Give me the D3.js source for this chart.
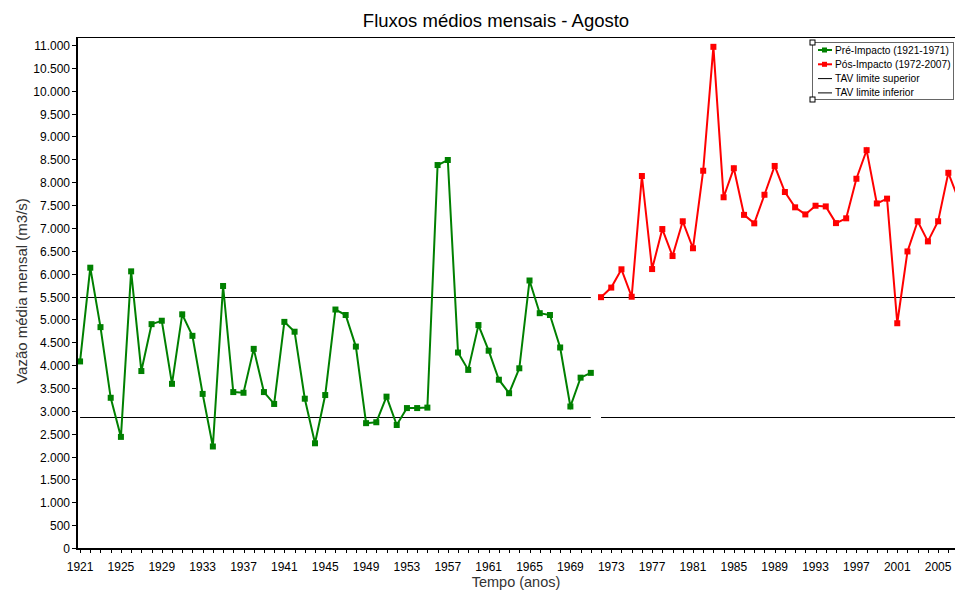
<!DOCTYPE html>
<html><head><meta charset="utf-8">
<script src="https://cdn.jsdelivr.net/npm/d3@7"></script>
<style>
html,body{margin:0;padding:0;background:#fff;overflow:hidden}
svg{display:block;font-family:"Liberation Sans",Arial,sans-serif}
</style></head><body>
<svg id="chart" width="955" height="592"></svg>
<script>
const preYears = d3.range(1921, 1972);
const preValues = [4080,6130,4830,3285,2430,6050,3870,4895,4970,3590,5110,4640,3370,2220,5730,3410,3395,4355,3410,3150,4945,4730,3265,2290,3345,5215,5095,4405,2730,2750,3310,2690,3060,3060,3070,8375,8485,4275,3895,4875,4315,3680,3385,3930,5850,5135,5095,4385,3095,3725,3830];
const posYears = d3.range(1972, 2008);
const posValues = [5485,5695,6095,5495,8135,6100,6975,6385,7145,6555,8250,10960,7670,8305,7285,7100,7725,8355,7785,7450,7295,7485,7470,7105,7210,8075,8700,7535,7640,4915,6485,7145,6705,7145,8205,7620];
const tavUpper = 5500;
const tavLower = 2855;
const xTickYears = d3.range(1921, 2008, 4);
const yTicks = d3.range(0, 11001, 500);
const seriesNames = ["Pré-Impacto (1921-1971)","Pós-Impacto (1972-2007)","TAV limite superior","TAV limite inferior"];
const seriesColors = ["#008000","#ff0000","#000000","#000000"];

(function(){
const svg = d3.select("#chart");
const pLeft = 77, pTop = 37, pBottom = 549;
const x = d3.scaleLinear().domain([1920.7, 2007.7]).range([pLeft, pLeft + 87*10.215]);
const y = d3.scaleLinear().domain([0, 11000]).range([548, 45]);
const fmt = v => d3.format(",")(v).replace(/,/g, ".");

svg.append("text").attr("x", 496).attr("y", 27).attr("text-anchor","middle")
  .attr("font-size", 18.5).attr("fill","#000").text("Fluxos médios mensais - Agosto");

svg.append("line").attr("x1", pLeft).attr("x2", 955).attr("y1", pTop+0.5).attr("y2", pTop+0.5)
  .attr("stroke","#000").attr("stroke-width",1);

const tavSeg = [[1921,1971],[1972,2007]];
[tavUpper, tavLower].forEach(v => {
  tavSeg.forEach(s => {
    svg.append("line").attr("x1", x(s[0])).attr("x2", x(s[1]))
      .attr("y1", Math.round(y(v))+0.5).attr("y2", Math.round(y(v))+0.5)
      .attr("stroke","#000").attr("stroke-width",1);
  });
});

function drawSeries(years, vals, color) {
  const data = years.map((yr,i)=>[yr, vals[i]]);
  svg.append("path").datum(data)
    .attr("d", d3.line().x(d=>x(d[0])).y(d=>y(d[1])))
    .attr("fill","none").attr("stroke", color).attr("stroke-width", 2);
  svg.selectAll(null).data(data).enter().append("rect")
    .attr("x", d=>x(d[0])-3).attr("y", d=>y(d[1])-3)
    .attr("width",6).attr("height",6).attr("fill",color);
}
drawSeries(preYears, preValues, seriesColors[0]);
drawSeries(posYears, posValues, seriesColors[1]);

const yAxis = svg.append("g").attr("transform",`translate(${pLeft},0)`);
yAxis.append("line").attr("x1",0).attr("x2",0).attr("y1",pTop).attr("y2",pBottom+1)
  .attr("stroke","#000").attr("stroke-width",2);
yTicks.forEach(t => {
  const yy = Math.round(y(t))+0.5;
  yAxis.append("line").attr("x1",-5).attr("x2",0).attr("y1",yy).attr("y2",yy).attr("stroke","#000");
  yAxis.append("text").attr("x",-7).attr("y",yy).attr("dy","0.35em")
    .attr("text-anchor","end").attr("font-size",12).attr("fill","#000").text(fmt(t));
});

const xAxis = svg.append("g");
xAxis.append("line").attr("x1",pLeft-1).attr("x2",955).attr("y1",pBottom).attr("y2",pBottom)
  .attr("stroke","#000").attr("stroke-width",2);
d3.range(1921, 2008).forEach(yr => {
  const xx = Math.round(x(yr))+0.5;
  xAxis.append("line").attr("x1",xx).attr("x2",xx).attr("y1",pBottom).attr("y2",pBottom+4).attr("stroke","#000");
});
xTickYears.forEach(yr => {
  xAxis.append("text").attr("x", x(yr)).attr("y", 571).attr("text-anchor","middle")
    .attr("font-size",12).attr("fill","#000").text(yr);
});

svg.append("text").attr("x",516).attr("y",587).attr("text-anchor","middle")
  .attr("font-size",14.5).attr("fill","#333").text("Tempo (anos)");
svg.append("text").attr("transform","translate(27,291) rotate(-90)").attr("text-anchor","middle")
  .attr("font-size",15).attr("fill","#333").text("Vazão média mensal (m3/s)");

const lg = svg.append("g");
lg.append("rect").attr("x",812.5).attr("y",42.5).attr("width",141).attr("height",57)
  .attr("fill","#fff").attr("stroke","#666").attr("stroke-width",1);
seriesNames.forEach((n,i) => {
  const yy = 50 + i*14.3;
  lg.append("line").attr("x1",818).attr("x2",832).attr("y1",yy).attr("y2",yy)
    .attr("stroke",seriesColors[i]).attr("stroke-width", i<2?2:1);
  if (i<2) lg.append("rect").attr("x",822).attr("y",yy-2.5).attr("width",5).attr("height",5).attr("fill",seriesColors[i]);
  lg.append("text").attr("x",835).attr("y",yy).attr("dy","0.35em").attr("font-size",10.2)
    .attr("fill","#000").text(n);
});
[[812.5,42.5],[812.5,99.5]].forEach(p => {
  lg.append("rect").attr("x",p[0]-2.5).attr("y",p[1]-2.5).attr("width",5).attr("height",5)
    .attr("fill","#fff").attr("stroke","#000").attr("stroke-width",1);
});
})();
</script>
</body></html>
